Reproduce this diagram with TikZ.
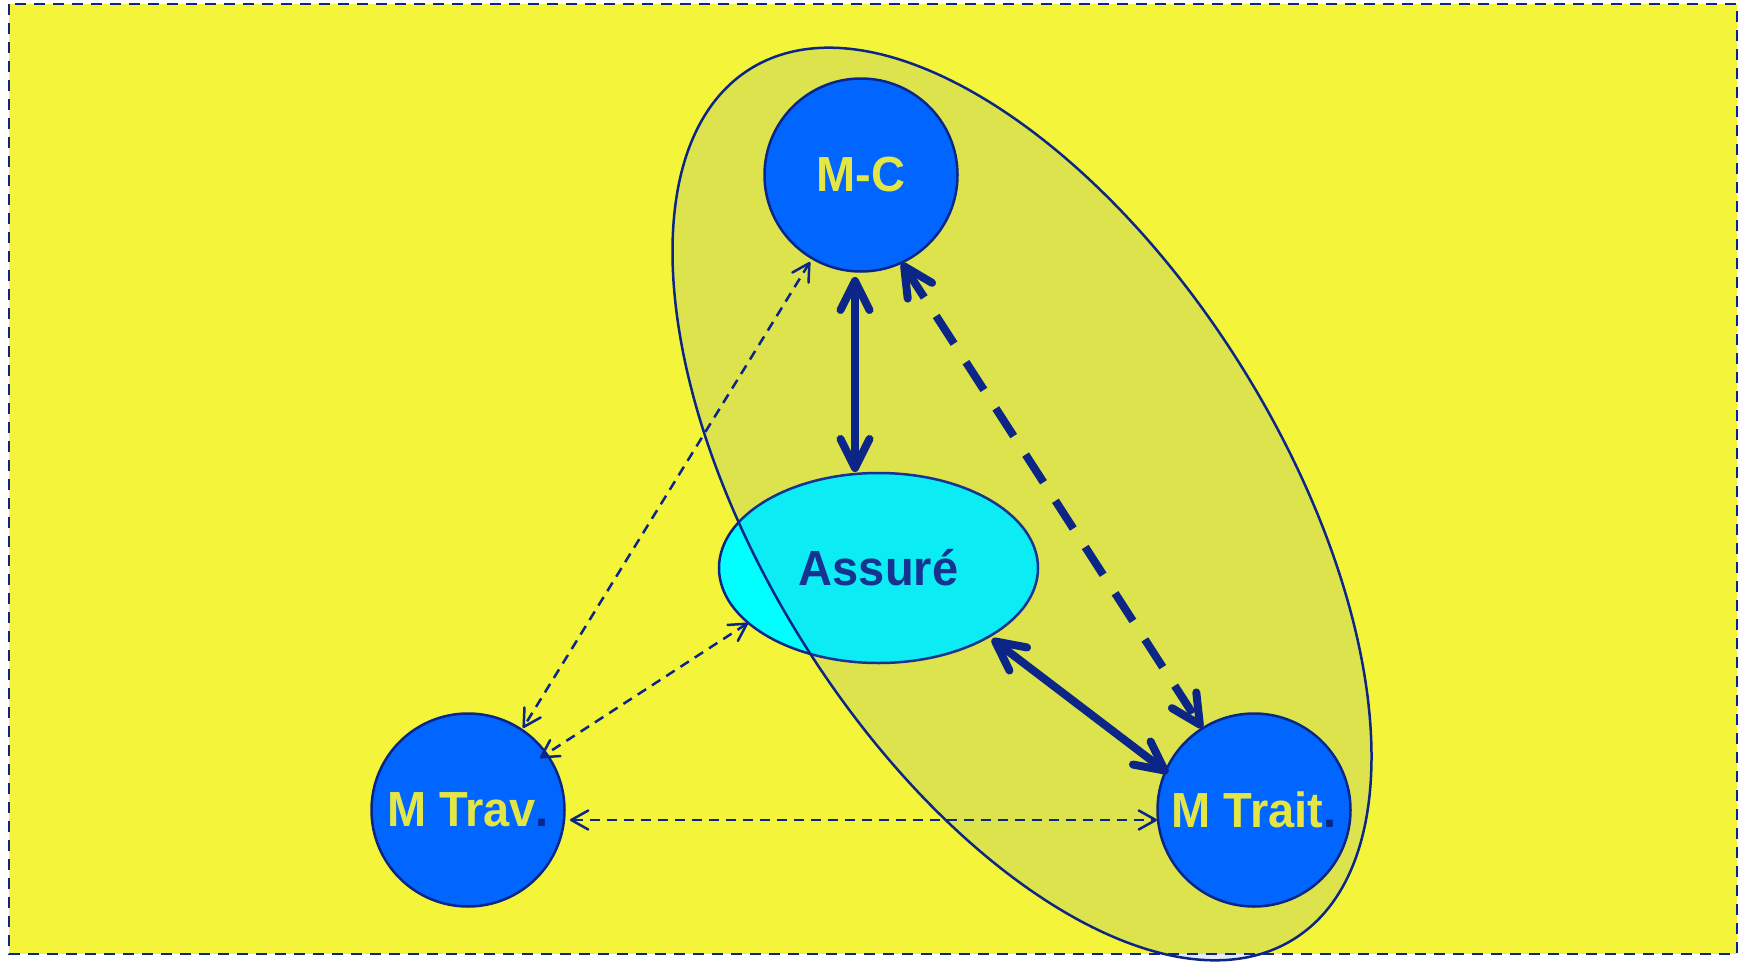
\documentclass[tikz,border=0pt]{standalone}
\usepackage{fontspec}
\setmainfont{Liberation Sans}
\usetikzlibrary{shapes.geometric,arrows.meta,calc}
\definecolor{bgyellow}{RGB}{244,244,58}
\definecolor{navy}{RGB}{12,38,135}
\definecolor{mblue}{RGB}{0,102,255}
\definecolor{cyanfill}{RGB}{0,255,255}
\definecolor{tintc}{RGB}{84,130,191}
\definecolor{txtyellow}{RGB}{228,230,70}
\newcommand{\talltxt}[1]{\scalebox{1}[1.05]{#1}}
\begin{document}
\begin{tikzpicture}[x=1pt,y=-1pt,
  mcircle/.style={circle, draw=navy, line width=2.5pt, fill=mblue, minimum size=193pt,
    inner sep=0pt, text=txtyellow, font=\fontsize{47}{56}\selectfont\bfseries},
  assnode/.style={ellipse, draw=navy, line width=2.5pt, fill=cyanfill, minimum width=319pt,
    minimum height=190pt, inner sep=0pt, text=navy, font=\fontsize{47}{56}\selectfont\bfseries},
  bigarrow/.style={draw=navy, line width=8pt,
    {Straight Barb[length=29pt,width=29pt,round]}-{Straight Barb[length=29pt,width=29pt,round]}},
  thinarrow/.style={draw=navy, line width=2.5pt, dash pattern=on 10pt off 7pt,
    {Straight Barb[length=17pt,width=19pt,round]}-{Straight Barb[length=17pt,width=19pt,round]}},
  frame/.style={draw=navy, line width=2.5pt, dash pattern=on 11pt off 8pt}
]
\useasboundingbox (0,0) rectangle (1745,961);
\fill[white] (0,0) rectangle (1745,961);
\fill[bgyellow] (9,4) rectangle (1737,954);
% central ellipse (below the translucent group ellipse)
\node[assnode] (ass) at (878.5,568) {\talltxt{Assuré}};
% translucent group ellipse
\begin{scope}[shift={(1022,504)}, rotate=-58]
  \path[fill=tintc, fill opacity=0.15, draw=navy, line width=2.5pt]
    (0,0) ellipse [x radius=513, y radius=259];
\end{scope}
\draw[frame] (9,4) rectangle (1737,954);
% circles
\node[mcircle] (mc) at (861,175) {\talltxt{M-C}};
\node[mcircle] (trav) at (468,810) {\talltxt{M Trav\textcolor{navy}{.}}};
\node[mcircle] (trait) at (1254,810) {\talltxt{M Trait\textcolor{navy}{.}}};
% connectors
\draw[bigarrow] ($(mc.center)+(-6,102)$) -- ($(ass.center)+(-23.5,-96)$);
\draw[bigarrow, dash pattern=on 33pt off 22pt] ($(mc.center)+(41,88)$) -- ($(trait.center)+(-52,-82)$);
\draw[bigarrow] ($(ass.center)+(113.5,71)$) -- ($(trait.center)+(-86,-37)$);
\draw[thinarrow] ($(mc.center)+(-51,87)$) -- ($(trav.center)+(55,-82)$);
\draw[thinarrow] ($(ass.center)+(-130.5,55)$) -- ($(trav.center)+(72,-52)$);
\draw[thinarrow] ($(trav.center)+(102,10)$) -- ($(trait.center)+(-97,10)$);
\end{tikzpicture}
\end{document}
